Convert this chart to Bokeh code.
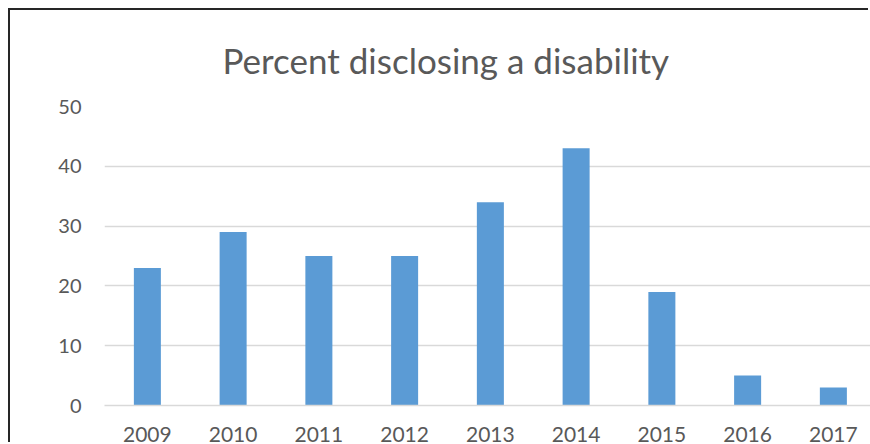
from bokeh.plotting import figure
from bokeh.models import Range1d, FixedTicker, ColumnDataSource
from bokeh.embed import file_html
from bokeh.resources import INLINE

years = ["2009", "2010", "2011", "2012", "2013", "2014", "2015", "2016", "2017"]
percent = [23, 29, 25, 25, 34, 43, 19, 5, 3]
y_ticks = [0, 10, 20, 30, 40, 50]

xpos = [i + 0.5 for i in range(len(years))]
source = ColumnDataSource(data=dict(x=xpos, top=percent, year=years))

FONT = "Lato"
GRAY = "#595959"

p = figure(width=860, height=434, output_backend="svg", toolbar_location=None,
           x_range=Range1d(0, 8.933), y_range=Range1d(0, 50),
           min_border_left=94, min_border_right=0, min_border_top=95, min_border_bottom=38,
           title="Percent disclosing a disability")
p.styles = {"box-shadow": "-2px -2px 0 0 #262626",
            "margin-left": "10px", "margin-top": "10px"}

p.vbar(x="x", top="top", width=0.315, bottom=0, source=source,
       fill_color="#5b9bd5", line_color=None)

p.title.align = "left"
p.title.offset = 118
p.title.text_font = FONT
p.title.text_font_size = "35px"
p.title.text_font_style = "normal"
p.title.text_color = GRAY
p.title.standoff = 52

p.outline_line_color = None
p.background_fill_color = "white"
p.border_fill_color = "white"

p.xgrid.grid_line_color = None
p.ygrid.grid_line_color = "#d9d9d9"
p.ygrid.grid_line_width = 1.3

p.yaxis.ticker = FixedTicker(ticks=y_ticks)
p.yaxis.axis_line_color = None
p.yaxis.major_tick_line_color = None
p.yaxis.minor_tick_line_color = None
p.yaxis.major_tick_out = 0
p.yaxis.major_tick_in = 0
p.yaxis.major_label_standoff = 23
p.yaxis.major_label_text_font = FONT
p.yaxis.major_label_text_font_size = "20px"
p.yaxis.major_label_text_color = GRAY

p.xaxis.ticker = FixedTicker(ticks=xpos)
p.xaxis.major_label_overrides = {x: y for x, y in zip(xpos, years)}
p.xaxis.axis_line_color = "#d9d9d9"
p.xaxis.axis_line_width = 1.3
p.xaxis.major_tick_line_color = None
p.xaxis.minor_tick_line_color = None
p.xaxis.major_tick_out = 0
p.xaxis.major_tick_in = 0
p.xaxis.major_label_standoff = 21
p.xaxis.major_label_text_font = FONT
p.xaxis.major_label_text_font_size = "21px"
p.xaxis.major_label_text_color = GRAY

open("out.html", "w").write(file_html(p, INLINE))
